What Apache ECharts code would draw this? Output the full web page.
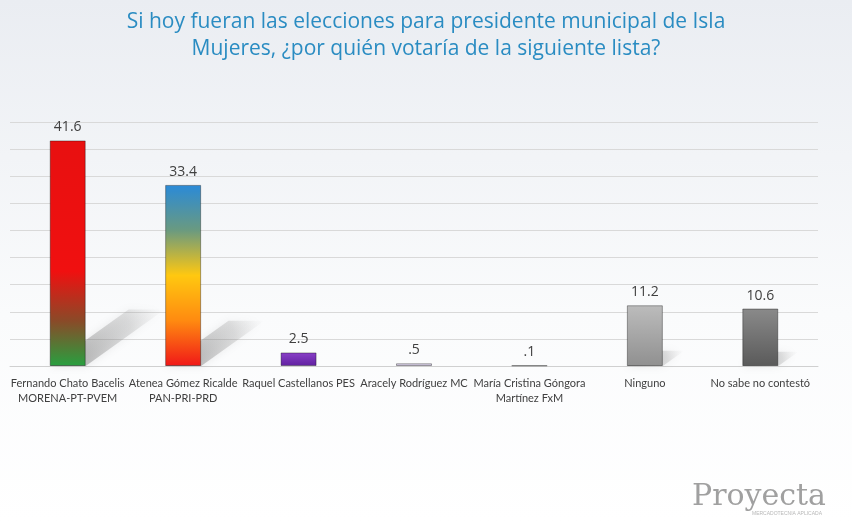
<!DOCTYPE html>
<html lang="es">
<head>
<meta charset="UTF-8">
<title>Isla Mujeres</title>
<script src="https://cdn.jsdelivr.net/npm/echarts@6/dist/echarts.min.js"></script>
<style>
  html, body { margin: 0; padding: 0; }
  #chart { width: 852px; height: 522px; }
</style>
</head>
<body>
<div id="chart"></div>
<script>
const candidatos = [
  'Fernando Chato Bacelis\nMORENA-PT-PVEM',
  'Atenea Gómez Ricalde\nPAN-PRI-PRD',
  'Raquel Castellanos PES',
  'Aracely Rodríguez MC',
  'María Cristina Góngora\nMartínez FxM',
  'Ninguno',
  'No sabe no contestó'
];
const votos = [41.6, 33.4, 2.5, 0.5, 0.1, 11.2, 10.6];
const etiquetas = ['41.6', '33.4', '2.5', '.5', '.1', '11.2', '10.6'];

function grad(stops) {
  return new echarts.graphic.LinearGradient(0, 0, 0, 1,
    stops.map(s => ({ offset: s[0], color: s[1] })));
}
const colores = [
  grad([[0, '#e81010'], [0.58, '#f01010'], [0.8, '#8a4a28'], [1, '#28a040']]),
  grad([[0, '#2a8ad8'], [0.25, '#6a9a80'], [0.5, '#ffc810'], [0.75, '#ff8a10'], [1, '#f01818']]),
  grad([[0, '#8a40c8'], [1, '#6020a0']]),
  grad([[0, '#e4dcf0'], [1, '#cac0dc']]),
  grad([[0, '#d4e0b8'], [1, '#b8c898']]),
  grad([[0, '#bcbcbc'], [1, '#909090']]),
  grad([[0, '#8a8a8a'], [1, '#5a5a5a']])
];

// sombra diagonal detrás de cada barra
function sombra(params, api) {
  const base = api.coord([api.value(0), 0]);
  const top = api.coord([api.value(0), api.value(1)]);
  const h = (base[1] - top[1]) * 0.25;
  if (h < 4) return;
  const dx = h * 1.4, w = 18;
  return {
    type: 'polygon',
    shape: { points: [[base[0] - w, base[1]], [base[0] + w, base[1]],
                      [base[0] + w + dx, base[1] - h], [base[0] - w + dx, base[1] - h]] },
    style: {
      fill: new echarts.graphic.LinearGradient(0, 1, 1, 0, [
        { offset: 0, color: 'rgba(90,90,90,0.5)' },
        { offset: 0.7, color: 'rgba(150,150,150,0.25)' },
        { offset: 1, color: 'rgba(180,180,180,0)' }
      ]),
      shadowBlur: 8,
      shadowColor: 'rgba(120,120,120,0.4)'
    }
  };
}

const chart = echarts.init(document.getElementById('chart'));
chart.setOption({
  backgroundColor: new echarts.graphic.LinearGradient(0, 0, 0, 1, [
    { offset: 0, color: '#eaedf2' }, { offset: 0.6, color: '#fafbfc' }, { offset: 1, color: '#ffffff' }
  ]),
  title: {
    text: 'Si hoy fueran las elecciones para presidente municipal de Isla\nMujeres, ¿por quién votaría de la siguiente lista?',
    left: 'center',
    top: 4,
    textStyle: { color: '#2a8cc2', fontSize: 21, fontWeight: 'normal', lineHeight: 27, fontFamily: 'Open Sans' }
  },
  grid: { left: 10, right: 34, top: 122, bottom: 156, containLabel: false },
  xAxis: {
    type: 'category',
    data: candidatos,
    axisLine: { lineStyle: { color: '#d0d0d0' } },
    axisTick: { show: false },
    axisLabel: { color: '#404040', fontSize: 11, lineHeight: 15, interval: 0, margin: 10, fontFamily: 'Lato' }
  },
  yAxis: {
    type: 'value',
    min: 0, max: 45, interval: 5,
    axisLabel: { show: false },
    axisLine: { show: false },
    splitLine: { lineStyle: { color: '#d9d9d9' } }
  },
  series: [{
    type: 'custom',
    z: 1,
    silent: true,
    renderItem: sombra,
    data: votos.map((v, i) => [i, v])
  }, {
    type: 'bar',
    z: 3,
    barWidth: 36,
    data: votos.map((v, i) => ({
      value: v,
      itemStyle: { color: colores[i] },
      label: { formatter: etiquetas[i] }
    })),
    itemStyle: { borderColor: 'rgba(0,0,0,0.35)', borderWidth: 1 },
    label: { show: true, position: 'top', color: '#404040', fontSize: 14, distance: 6, fontFamily: 'Open Sans' }
  }],
  graphic: [
    {
      type: 'text', right: 26, bottom: 10,
      style: { text: 'Proyecta', fill: '#a0a0a0', font: '30px "DejaVu Serif", serif' }
    },
    {
      type: 'text', right: 30, bottom: 6,
      style: { text: 'MERCADOTECNIA APLICADA', fill: '#b8b8b8', font: '5px sans-serif' }
    }
  ]
});
</script>
</body>
</html>
